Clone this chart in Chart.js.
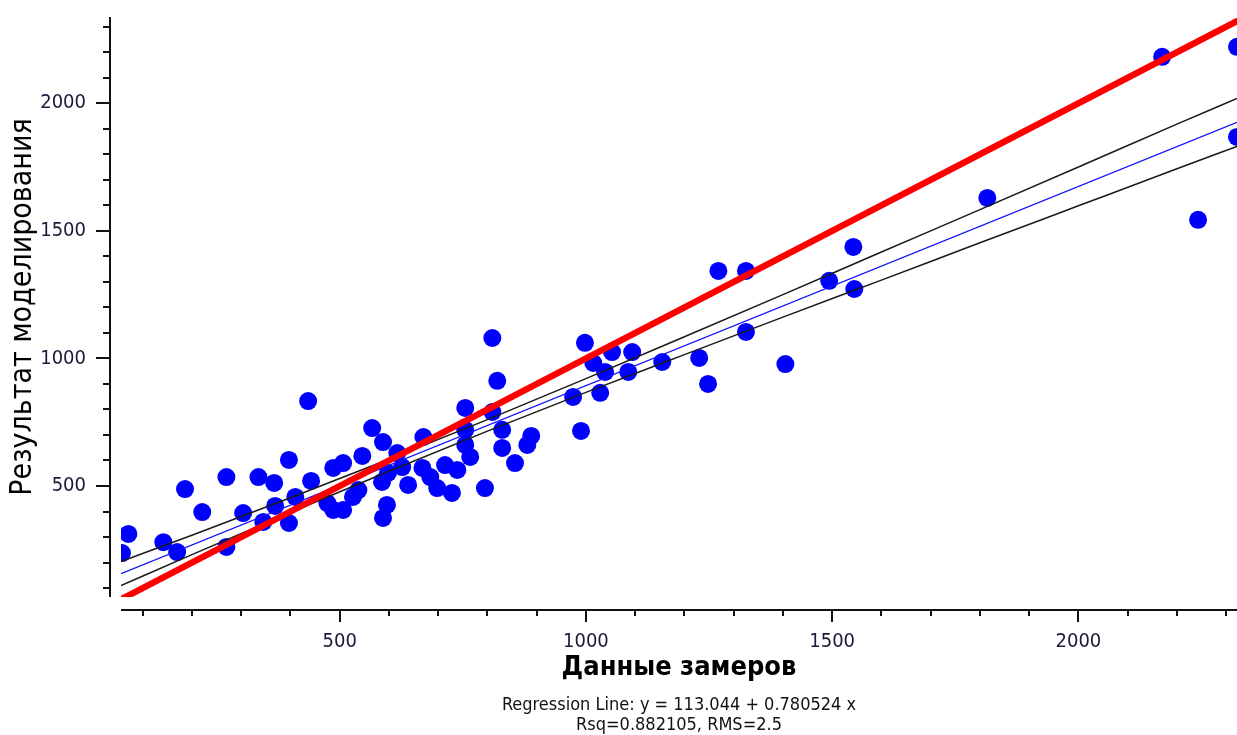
<!DOCTYPE html>
<html>
<head>
<meta charset="utf-8">
<title>Данные замеров / Результат моделирования</title>
<script src="https://cdn.jsdelivr.net/npm/chart.js@4.4.1/dist/chart.umd.min.js"></script>
<style>
  html, body { margin: 0; padding: 0; background: #fff; }
  #wrap { width: 1237px; height: 735px; }
</style>
</head>
<body>
<div id="wrap"><canvas id="chart" width="1237" height="735"></canvas></div>
<script>
// Measured vs modelled values
const measured = [58, 71, 142, 170, 186, 221, 270, 270, 304, 335, 345, 367, 369, 397, 397, 410, 436, 442, 475, 487,
  487, 507, 507, 527, 538, 546, 566, 588, 586, 598, 596, 588, 627, 639, 670, 668, 684, 698, 714, 728,
  739, 755, 755, 755, 765, 795, 810, 820, 810, 830, 830, 856, 881, 889, 974, 990, 998, 1015, 1039, 1029,
  1053, 1094, 1086, 1155, 1230, 1248, 1269, 1325, 1325, 1405, 1494, 1543, 1545, 1815, 2170, 2243, 2322, 2322, 617];
const modeled = [237, 312, 280, 241, 488, 398, 535, 261, 394, 535, 359, 512, 422, 602, 355, 457, 833, 520, 433, 571,
  406, 590, 406, 457, 484, 618, 727, 672, 516, 551, 426, 375, 574, 504, 692, 571, 535, 492, 582, 473,
  563, 806, 720, 661, 614, 492, 1080, 912, 790, 720, 649, 590, 661, 696, 849, 716, 1061, 982, 947, 865,
  1025, 1025, 947, 986, 1002, 900, 1343, 1343, 1104, 978, 1304, 1437, 1272, 1629, 2182, 1543, 2221, 1868, 629];

// Regression fit
const intercept = 113.044;
const slope = 0.780524;
const rsq = 0.882105;
const rms = 2.5;

// Confidence band around the regression line
const bandX = [56, 200, 400, 600, 800, 1000, 1200, 1400, 1600, 1800, 2000, 2200, 2322];
const bandUpper = [204, 307, 454, 605, 760, 921, 1085, 1250, 1417, 1583, 1750, 1918, 2019];
const bandLower = [110, 231, 396, 558, 715, 867, 1015, 1162, 1307, 1453, 1598, 1743, 1831];

// Axes
const X_MIN = 56, X_MAX = 2322;
const Y_MIN = 65, Y_MAX = 2338;
const xTicks = [500, 1000, 1500, 2000];
const yTicks = [500, 1000, 1500, 2000];

const FONT = "'DejaVu Sans Condensed', 'DejaVu Sans', sans-serif";

// plot area in canvas pixels
const AREA = { left: 121, top: 17, right: 1237, bottom: 597 };

const points = measured.map((x, i) => ({ x, y: modeled[i] }));
const regLine = [X_MIN, X_MAX].map(x => ({ x, y: intercept + slope * x }));
const idealLine = [X_MIN, X_MAX].map(x => ({ x, y: x }));
const upper = bandX.map((x, i) => ({ x, y: bandUpper[i] }));
const lower = bandX.map((x, i) => ({ x, y: bandLower[i] }));

// axis lines sit apart from the plot area, with major/minor tick marks
const offsetAxes = {
  id: "offsetAxes",
  afterDraw(chart) {
    const { ctx, chartArea: a, scales } = chart;
    const xs = scales.x, ys = scales.y;
    const axisX = a.left - 11;
    const axisY = a.bottom + 13;
    ctx.save();
    ctx.strokeStyle = "#111";
    ctx.lineWidth = 2;
    ctx.beginPath();
    ctx.moveTo(axisX, a.top);
    ctx.lineTo(axisX, a.bottom);
    ctx.moveTo(a.left, axisY);
    ctx.lineTo(a.right, axisY);
    for (let v = 100; v <= Y_MAX; v += 100) {
      if (v < Y_MIN) continue;
      const p = Math.round(ys.getPixelForValue(v));
      const len = v % 500 === 0 ? 14 : 7;
      ctx.moveTo(axisX, p);
      ctx.lineTo(axisX - len, p);
    }
    for (let v = 100; v <= X_MAX; v += 100) {
      if (v < X_MIN) continue;
      const p = Math.round(xs.getPixelForValue(v));
      const len = v % 500 === 0 ? 12 : 6;
      ctx.moveTo(p, axisY);
      ctx.lineTo(p, axisY + len);
    }
    ctx.stroke();
    ctx.restore();
  }
};

const chart = new Chart(document.getElementById("chart"), {
  type: "scatter",
  data: {
    datasets: [
      {
        data: idealLine,
        showLine: true,
        borderColor: "#ff0000",
        borderWidth: 6.5,
        borderCapStyle: "round",
        pointRadius: 0,
        order: 1
      },
      {
        data: upper,
        showLine: true,
        borderColor: "#1a1a1a",
        borderWidth: 1.5,
        cubicInterpolationMode: "monotone",
        pointRadius: 0,
        order: 2
      },
      {
        data: lower,
        showLine: true,
        borderColor: "#1a1a1a",
        borderWidth: 1.5,
        cubicInterpolationMode: "monotone",
        pointRadius: 0,
        order: 2
      },
      {
        data: regLine,
        showLine: true,
        borderColor: "#1010ff",
        borderWidth: 1.3,
        pointRadius: 0,
        order: 3
      },
      {
        data: points,
        backgroundColor: "#0000ff",
        borderWidth: 0,
        pointRadius: 9,
        order: 4
      }
    ]
  },
  options: {
    responsive: false,
    animation: false,
    events: [],
    layout: { autoPadding: false, padding: { top: AREA.top, right: 0, bottom: 0, left: 0 } },
    scales: {
      x: {
        type: "linear",
        min: X_MIN,
        max: X_MAX,
        afterBuildTicks: s => { s.ticks = xTicks.map(v => ({ value: v })); },
        afterFit: s => { s.height = 95; s.paddingLeft = 0; s.paddingRight = 0; },
        grid: { display: false, drawTicks: false },
        border: { display: false },
        ticks: {
          padding: 33,
          autoSkip: false,
          maxRotation: 0,
          color: "#1a1a3a",
          font: { family: FONT, size: 20 },
          callback: v => String(v)
        },
        title: {
          display: true,
          text: "Данные замеров",
          color: "#000",
          font: { family: FONT, size: 27, weight: "bold" },
          padding: { top: 0, bottom: 8 }
        }
      },
      y: {
        type: "linear",
        min: Y_MIN,
        max: Y_MAX,
        afterBuildTicks: s => { s.ticks = yTicks.map(v => ({ value: v })); },
        afterFit: s => { s.width = AREA.left; s.paddingTop = 0; s.paddingBottom = 0; },
        grid: { display: false, drawTicks: false },
        border: { display: false },
        ticks: {
          padding: 35,
          autoSkip: false,
          color: "#1a1a3a",
          font: { family: FONT, size: 20 },
          callback: v => String(v)
        },
        title: {
          display: true,
          text: "Результат моделирования",
          color: "#000",
          font: { family: FONT, size: 30 },
          padding: { top: 5, bottom: 0 }
        }
      }
    },
    plugins: {
      legend: { display: false },
      tooltip: { enabled: false },
      title: {
        display: true,
        position: "bottom",
        fullSize: false,
        text: [
          `Regression Line: y = ${intercept} + ${slope} x`,
          `Rsq=${rsq}, RMS=${rms}`
        ],
        color: "#111",
        font: { family: FONT, size: 18, weight: "normal", lineHeight: 20 / 18 },
        padding: { top: 3, bottom: 0 }
      }
    }
  },
  plugins: [offsetAxes]
});

// nudge the layout padding so the plot area lands where intended
const a = chart.chartArea;
const pad = chart.options.layout.padding;
if (Math.abs(a.top - AREA.top) > 0.5 || Math.abs(a.right - AREA.right) > 0.5) {
  pad.top += AREA.top - a.top;
  pad.right += a.right - AREA.right;
  chart.update();
}
</script>
</body>
</html>
